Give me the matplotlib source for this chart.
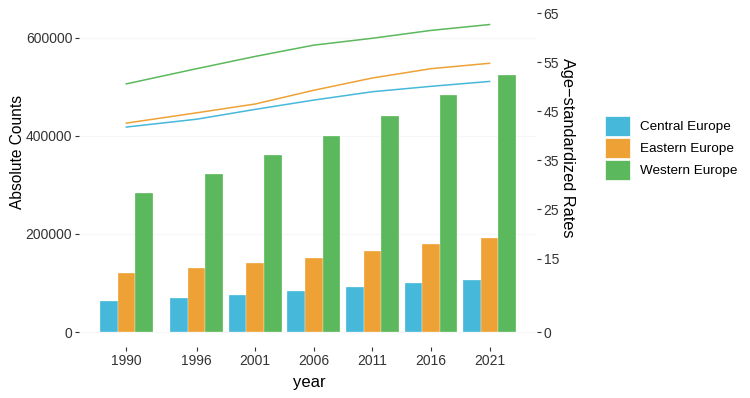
import matplotlib
matplotlib.use("Agg")
import matplotlib.pyplot as plt
import matplotlib.patches as mpatches
import numpy as np

plt.rcParams['font.family'] = ['Liberation Sans', 'DejaVu Sans']

years = [1990, 1996, 2001, 2006, 2011, 2016, 2021]
regions = ['Central Europe', 'Eastern Europe', 'Western Europe']
colors = ['#46B8DA', '#EEA236', '#5CB85C']

# absolute counts (bars)
counts_central = [62500, 69300, 76000, 83500, 91700, 99800, 106000]
counts_eastern = [119600, 131000, 140000, 150800, 165000, 179000, 191500]
counts_western = [283000, 322000, 360600, 400000, 440000, 483000, 524000]

# age-standardized rates (lines)
rates_central = [41.8, 43.4, 45.4, 47.3, 49.0, 50.1, 51.1]
rates_eastern = [42.6, 44.7, 46.5, 49.3, 51.8, 53.7, 54.8]
rates_western = [50.6, 53.7, 56.2, 58.5, 59.9, 61.5, 62.7]

counts = [counts_central, counts_eastern, counts_western]
rates = [rates_central, rates_eastern, rates_western]
scale = 10000

fig = plt.figure(figsize=(7.5, 3.98), dpi=100)
ax = fig.add_axes([0.1056, 0.127, 0.61, 0.85])
ax2 = ax.twinx()

bw = 1.5
x = np.array(years, dtype=float)
for i, (c, col) in enumerate(zip(counts, colors)):
    ax.bar(x + (i - 1) * bw, c, width=bw, color=col, edgecolor='white', linewidth=0.2)

ymax = max(max(r) for r in rates) * scale
lo, hi = -0.05 * ymax, 1.05 * ymax
ax.set_ylim(lo, hi)
ax2.set_ylim(lo / scale, hi / scale)
for r, col in zip(rates, colors):
    ax2.plot(x, r, color=col, lw=1.1)

xmin, xmax = years[0] - 1.5 * bw, years[-1] + 1.5 * bw
pad = 0.05 * (xmax - xmin)
ax.set_xlim(xmin - pad, xmax + pad)

ax.set_xticks(years)
ax.set_yticks([0, 200000, 400000, 600000])
ax.set_yticklabels(['0', '200000', '400000', '600000'])
ax2.set_yticks([0, 15, 25, 35, 45, 55, 65])

for a in (ax, ax2):
    for s in a.spines.values():
        s.set_visible(False)
    a.tick_params(length=3, width=0.8, color='#333333', labelcolor='#333333',
                  labelsize=10, pad=2)
ax.grid(axis='y', color='#f6f6f6', lw=0.8)
ax.set_axisbelow(True)

fig.text(0.413, 1 - 383 / 398, 'year', ha='center', va='center', fontsize=12)
fig.text(18 / 750, 1 - 152 / 398, 'Absolute Counts', ha='center', va='center',
         rotation=90, fontsize=11.2)
fig.text(568 / 750, 1 - 148 / 398, 'Age\u2212standardized Rates', ha='center',
         va='center', rotation=-90, fontsize=11.8)

handles = [mpatches.Patch(facecolor=c, edgecolor='white', linewidth=0.5) for c in colors]
fig.legend(handles, regions, loc='center left', bbox_to_anchor=(598 / 750, 1 - 148 / 398),
           frameon=False, fontsize=9.7, handlelength=1.9, handleheight=1.9,
           labelspacing=0.15, handletextpad=0.7, borderpad=0)

fig.savefig('out.png', dpi=100)
